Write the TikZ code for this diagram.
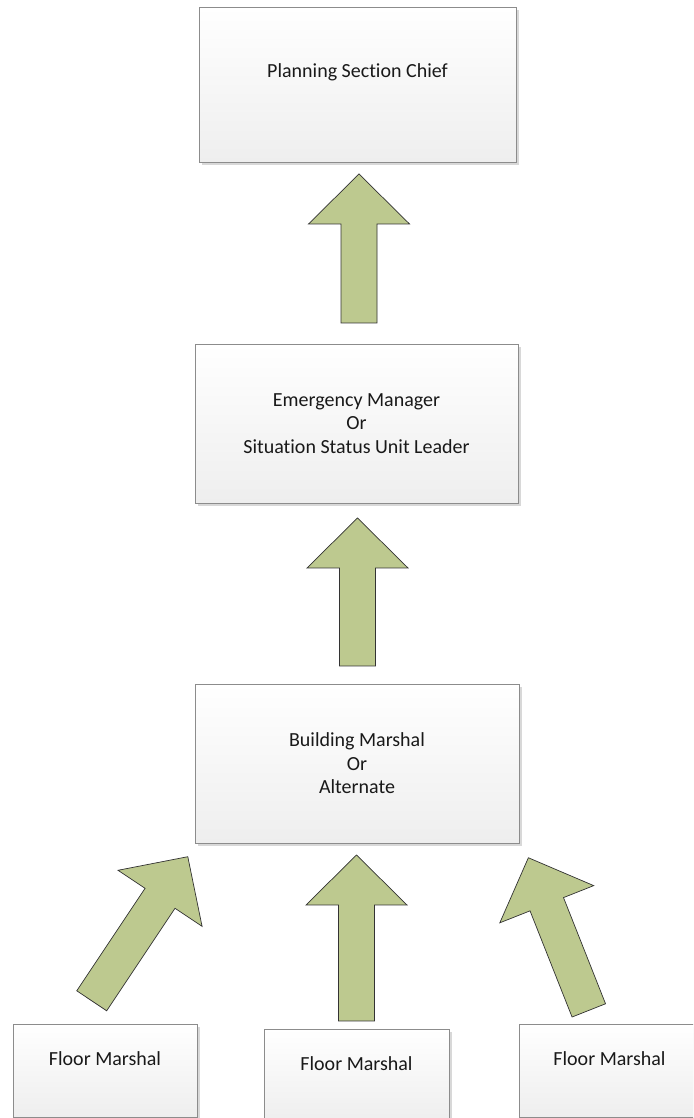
\documentclass[tikz,border=0pt]{standalone}
\usepackage{fontspec}
\setmainfont{Carlito}[Ligatures=NoCommon]
\usetikzlibrary{calc}
\definecolor{arrowgreen}{RGB}{189,201,143}
\definecolor{boxline}{RGB}{140,140,140}
\definecolor{shadowgray}{RGB}{216,216,216}
\definecolor{boxbottom}{RGB}{238,238,238}
\tikzset{
  box/.style={draw=boxline, line width=0.9pt, top color=white, bottom color=boxbottom, inner sep=0pt},
  boxshadow/.style={fill=shadowgray, draw=none, inner sep=0pt},
  lbl/.style={align=center, text=black!90, font=\fontsize{20pt}{23.5pt}\selectfont, inner sep=0pt},
  blockarrow/.style={fill=arrowgreen, draw=black!80, line width=0.7pt, line join=miter},
  arrowshadow/.style={fill=shadowgray, draw=none}
}
% #1 tail point, #2 angle, #3 length
\newcommand\blkarrow[3]{%
  \begin{scope}[shift={(2.5,-2.5)}]
    \begin{scope}[shift={#1}, rotate=#2]
      \fill[arrowshadow] (0,-18) -- ({#3-50},-18) -- ({#3-50},-50.5) -- (#3,0) -- ({#3-50},50.5) -- ({#3-50},18) -- (0,18) -- cycle;
    \end{scope}
  \end{scope}
  \begin{scope}[shift={#1}, rotate=#2]
    \draw[blockarrow] (0,-18) -- ({#3-50},-18) -- ({#3-50},-50.5) -- (#3,0) -- ({#3-50},50.5) -- ({#3-50},18) -- (0,18) -- cycle;
  \end{scope}}
\begin{document}
\begin{tikzpicture}[x=1pt,y=1pt]
\useasboundingbox (0,0) rectangle (693,1118);
\clip (0,0) rectangle (693,1118);
% box shadows
\node[boxshadow, minimum width=317pt, minimum height=155pt] (pscs) at (360.5,1030.5) {};
\node[boxshadow, minimum width=323pt, minimum height=159pt] (ems) at (359.5,691.5) {};
\node[boxshadow, minimum width=324pt, minimum height=159pt] (bms) at (360,351.5) {};
\node[boxshadow, minimum width=184pt, minimum height=93pt] (fm1s) at (108,44.5) {};
\node[boxshadow, minimum width=185pt, minimum height=93pt] (fm2s) at (359.5,39.5) {};
\node[boxshadow, minimum width=184pt, minimum height=93pt] (fm3s) at (614,44.5) {};
% boxes
\node[box, minimum width=317pt, minimum height=155pt] (psc) at (357.5,1033.5) {};
\node[lbl] (psct) at ([yshift=12pt]psc.center) {Planning Section Chief};
\node[box, minimum width=323pt, minimum height=159pt] (em) at (356.5,694.5) {};
\node[lbl] (emt) at (em.center) {Emergency Manager\\Or\\Situation Status Unit Leader};
\node[box, minimum width=324pt, minimum height=159pt] (bm) at (357,354.5) {};
\node[lbl] (bmt) at (bm.center) {Building Marshal\\Or\\Alternate};
\node[box, minimum width=184pt, minimum height=93pt] (fm1) at (105,47.5) {};
\node[lbl] (fm1t) at ([yshift=12pt]fm1.center) {Floor Marshal};
\node[box, minimum width=185pt, minimum height=93pt] (fm2) at (356.5,42.5) {};
\node[lbl] (fm2t) at ([yshift=12pt]fm2.center) {Floor Marshal};
\node[box, minimum width=184pt, minimum height=93pt] (fm3) at (611,47.5) {};
\node[lbl] (fm3t) at ([yshift=12pt,xshift=-1.5pt]fm3.center) {Floor Marshal};
% block arrows
\coordinate (a1) at (359,795);
\coordinate (a2) at (357.5,452);
\coordinate (a3) at (356.5,97);
\coordinate (a4) at (91.7,117.2);
\coordinate (a5) at (588.8,107.6);
\blkarrow{(a1)}{90}{149}
\blkarrow{(a2)}{90}{148}
\blkarrow{(a3)}{90}{166}
\blkarrow{(a4)}{56.3}{173.2}
\blkarrow{(a5)}{111.6}{164.2}
\end{tikzpicture}
\end{document}
